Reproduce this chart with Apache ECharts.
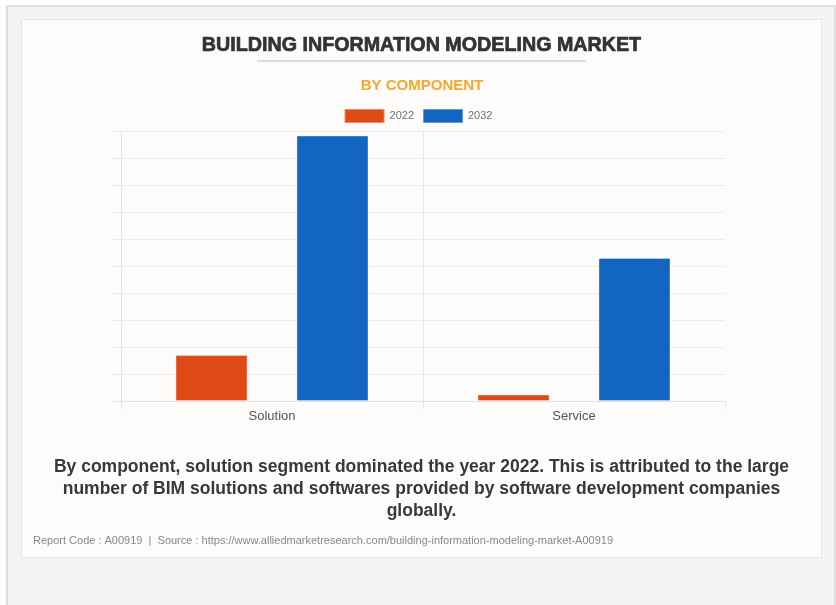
<!DOCTYPE html>
<html>
<head>
<meta charset="utf-8">
<script src="https://cdn.jsdelivr.net/npm/echarts@6/dist/echarts.min.js"></script>
<style>
  html, body { margin: 0; padding: 0; background: #ffffff; width: 836px; height: 605px; overflow: hidden; }
  #outer { position: absolute; left: 6px; top: 5px; width: 826px; height: 640px; background: #f4f4f4; border: 2px solid #dedede; }
  #card { position: absolute; left: 21px; top: 19px; width: 799px; height: 537px; background: #fdfcfb; border: 1px solid #e6e6e6; }
  #chart { position: absolute; left: 0; top: 0; width: 836px; height: 605px; }
</style>
</head>
<body>
<div id="outer"></div>
<div id="card"></div>
<div id="chart"></div>
<script>
const categories = ['Solution', 'Service'];
const seriesNames = ['2022', '2032'];
const values2022 = [1.70, 0.24];
const values2032 = [9.83, 5.30];
const colors = ['#e04a17', '#1265c0'];

const titleText = 'BUILDING INFORMATION MODELING MARKET';
const subtitleText = 'BY COMPONENT';
const descriptionText = 'By component, solution segment dominated the year 2022. This is attributed to the large\nnumber of BIM solutions and softwares provided by software development companies\nglobally.';
const footerText = 'Report Code : A00919  |  Source : https://www.alliedmarketresearch.com/building-information-modeling-market-A00919';

const font = '"Liberation Sans", Arial, Helvetica, sans-serif';
const chart = echarts.init(document.getElementById('chart'), null, { renderer: 'canvas' });

chart.setOption({
  backgroundColor: 'transparent',
  animation: false,
  textStyle: { fontFamily: font },
  title: [
    { text: titleText, left: 416.5, textAlign: 'center', top: 31,
      textStyle: { fontFamily: font, fontSize: 19.7, fontWeight: 'bold', color: '#333333', textBorderColor: '#333333', textBorderWidth: 0.7 } },
    { text: subtitleText, left: 417, textAlign: 'center', top: 73,
      textStyle: { fontFamily: font, fontSize: 15, fontWeight: 'bold', color: '#f9a72b' } },
    { text: descriptionText, left: 416.5, textAlign: 'center', top: 451,
      textStyle: { fontFamily: font, fontSize: 17.5, fontWeight: 'bold', color: '#383838', lineHeight: 22, align: 'center' } },
    { text: footerText, left: 28, top: 530,
      textStyle: { fontFamily: font, fontSize: 11, fontWeight: 'normal', color: '#888888' } }
  ],
  graphic: [
    { type: 'line', shape: { x1: 257, y1: 61, x2: 586, y2: 61 }, style: { stroke: '#dddddd', lineWidth: 2 } }
  ],
  legend: {
    data: seriesNames,
    top: 103,
    left: 'center',
    icon: 'rect',
    itemWidth: 40,
    itemHeight: 14,
    itemGap: 8,
    textStyle: { fontFamily: font, fontSize: 11, color: '#707070' }
  },
  grid: { left: 121, right: 111, top: 131, bottom: 204, containLabel: false },
  xAxis: {
    type: 'category',
    data: categories,
    boundaryGap: true,
    axisLine: { show: true, lineStyle: { color: '#e2e2e2', width: 1 } },
    axisTick: { show: true, length: 8, lineStyle: { color: '#e2e2e2' } },
    axisLabel: { show: true, color: '#555555', fontSize: 13, fontFamily: font, margin: 9 },
    splitLine: { show: true, lineStyle: { color: ['#e8e8e8', '#e8e8e8', 'rgba(0,0,0,0)'], width: 1 } }
  },
  yAxis: {
    type: 'value',
    min: 0,
    max: 10,
    interval: 1,
    axisLine: { show: true, lineStyle: { color: '#e2e2e2' } },
    axisTick: { show: true, length: 10, lineStyle: { color: '#e8e8e8' } },
    axisLabel: { show: false },
    splitLine: { show: true, lineStyle: { color: '#ebebeb', width: 1 } }
  },
  series: [
    { name: seriesNames[0], type: 'bar', data: values2022, barWidth: 72, barGap: '68%',
      itemStyle: { color: colors[0], borderColor: 'rgba(255,255,255,0.35)', borderWidth: 1 } },
    { name: seriesNames[1], type: 'bar', data: values2032, barWidth: 72, barGap: '68%',
      itemStyle: { color: colors[1], borderColor: 'rgba(255,255,255,0.35)', borderWidth: 1 } }
  ]
});
</script>
</body>
</html>
